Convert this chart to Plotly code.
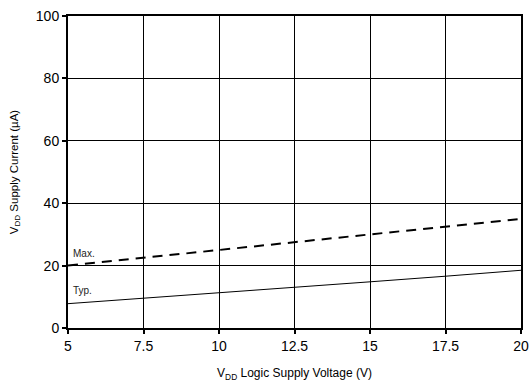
import plotly.graph_objects as go

voltage = [5, 7.5, 10, 12.5, 15, 17.5, 20]
typ_current = [7.8, 9.5, 11.2, 13.0, 14.8, 16.6, 18.5]
max_current = [20.0, 22.5, 25.0, 27.5, 30.0, 32.5, 35.0]
x_ticks = [5, 7.5, 10, 12.5, 15, 17.5, 20]
y_ticks = [0, 20, 40, 60, 80, 100]

FONT = "Liberation Sans, Arial, sans-serif"

fig = go.Figure()
fig.add_trace(go.Scatter(x=voltage, y=typ_current, mode="lines",
                         line=dict(color="black", width=1), showlegend=False))
fig.add_trace(go.Scatter(x=voltage, y=max_current, mode="lines",
                         line=dict(color="black", width=2, dash="10px,7px"), showlegend=False))

fig.add_annotation(x=5.1, y=23.8, text="Max.", showarrow=False, xanchor="left",
                   font=dict(size=10, color="#222", family=FONT))
fig.add_annotation(x=5.1, y=12.0, text="Typ.", showarrow=False, xanchor="left",
                   font=dict(size=10, color="#222", family=FONT))

axis_common = dict(showgrid=True, gridcolor="black", gridwidth=1,
                   showline=True, linecolor="black", linewidth=2, mirror=True,
                   ticks="outside", ticklen=4, tickcolor="black", tickwidth=2,
                   zeroline=False, automargin=False, ticklabeloverflow="allow",
                   tickfont=dict(size=14, color="black", family=FONT))

fig.update_xaxes(range=[5, 20], tickvals=x_ticks, ticktext=[str(t) for t in x_ticks],
                 title=dict(text="V<sub>DD</sub> Logic Supply Voltage (V)", standoff=16,
                            font=dict(size=12, color="black", family=FONT)),
                 **axis_common)
fig.update_yaxes(range=[0, 100], tickvals=y_ticks,
                 title=dict(text="V<sub>DD</sub> Supply Current (µA)", standoff=15,
                            font=dict(size=11.5, color="black", family=FONT)),
                 **axis_common)

fig.update_layout(width=531, height=385, margin=dict(l=68, r=10, t=16, b=57),
                  plot_bgcolor="white", paper_bgcolor="white", font=dict(family=FONT))
fig.write_html("out.html", config={"displayModeBar": False},
               post_script="document.body.style.margin='0';document.body.style.overflow='hidden';")
